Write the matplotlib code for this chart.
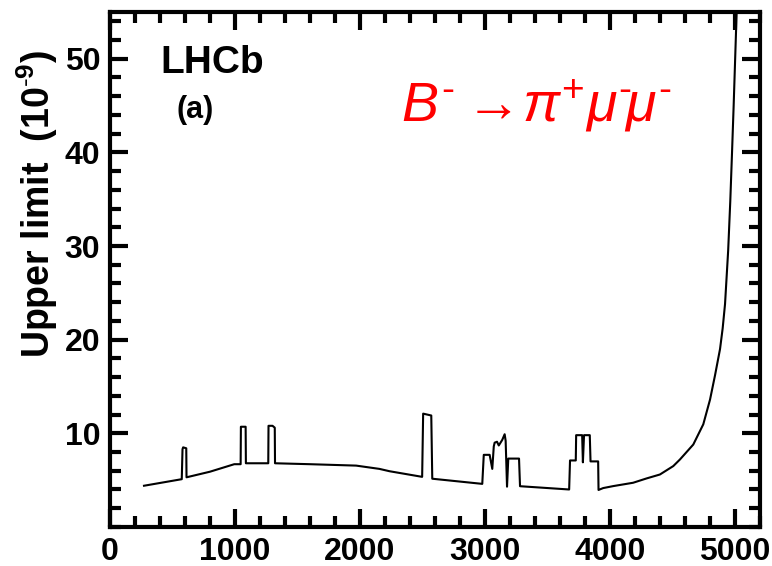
import matplotlib.pyplot as plt
from matplotlib.ticker import MultipleLocator

plt.rcParams['font.family'] = ['Liberation Sans', 'DejaVu Sans']
plt.rcParams['mathtext.fontset'] = 'custom'
plt.rcParams['mathtext.rm'] = 'Liberation Sans'
plt.rcParams['mathtext.it'] = 'Liberation Sans:italic'
plt.rcParams['mathtext.bf'] = 'Liberation Sans:bold'

# upper limit vs Majorana neutrino mass (MeV), in units of 1e-9
mass = [272, 574, 580, 585, 610, 612, 800, 994, 1045, 1047, 1085, 1087,
        1266, 1268, 1300, 1318, 1320, 1600, 1969, 2155, 2236, 2497, 2505,
        2570, 2578, 2978, 2990, 3037, 3058, 3070, 3077, 3096, 3110, 3138,
        3157, 3165, 3176, 3186, 3272, 3280, 3673, 3680, 3726, 3729, 3777,
        3783, 3792, 3838, 3844, 3905, 3908, 3945, 4025, 4185, 4292, 4399,
        4506, 4559, 4666, 4746, 4800, 4840, 4880, 4901, 4920, 4945, 4962,
        4976, 4989, 5001, 5013]
limit = [4.4, 5.1, 8.3, 8.5, 8.4, 5.3, 5.9, 6.7, 6.7, 10.7, 10.7, 6.8,
         6.8, 10.8, 10.8, 10.6, 6.8, 6.7, 6.55, 6.2, 5.95, 5.35, 12.1,
         11.9, 5.15, 4.6, 7.7, 7.7, 6.2, 8.6, 9.0, 9.1, 8.7, 9.3,
         9.9, 9.2, 4.3, 7.3, 7.3, 4.35, 4.0, 7.1, 7.1, 9.8, 9.8,
         6.9, 9.8, 9.8, 7.0, 7.0, 3.95, 4.15, 4.36, 4.72, 5.18, 5.6,
         6.5, 7.2, 8.8, 10.96, 13.6, 16.2, 19.0, 21.2, 23.8, 29.5, 34.8,
         40.0, 45.0, 50.0, 55.0]

fig = plt.figure(figsize=(7.72, 5.66), dpi=100)
ax = fig.add_axes([0.1425, 0.069, 0.842, 0.910])

ax.plot(mass, limit, color='black', linewidth=1.5)

ax.set_xlim(0, 5200)
ax.set_ylim(0, 55)
ax.xaxis.set_major_locator(MultipleLocator(1000))
ax.xaxis.set_minor_locator(MultipleLocator(200))
ax.yaxis.set_minor_locator(MultipleLocator(2))
ax.set_yticks([10, 20, 30, 40, 50])

for s in ax.spines.values():
    s.set_linewidth(3)
ax.tick_params(which='both', direction='in', top=True, right=True, width=3)
ax.tick_params(which='major', length=13, labelsize=23, pad=7)
ax.tick_params(which='minor', length=8)
for lbl in ax.get_xticklabels() + ax.get_yticklabels():
    lbl.set_fontweight('bold')

fig.text(0.048, 0.640, r'Upper limit  (10$^{\text{-}\mathbf{9}}$)',
         rotation=90, ha='center', va='center', fontsize=27,
         fontweight='bold')

ax.text(0.077, 0.90, 'LHCb', transform=ax.transAxes, fontsize=28,
        fontweight='bold', va='center')
ax.text(0.103, 0.81, '(a)', transform=ax.transAxes, fontsize=22,
        fontweight='bold', va='center')
ax.text(0.447, 0.818,
        r'$B^{\text{-}}\rightarrow\!\pi^{+}\mu^{\text{-}}\!\mu^{\text{-}}$',
        transform=ax.transAxes, fontsize=40, color='red', va='center')

fig.savefig('out.png', dpi=100)
